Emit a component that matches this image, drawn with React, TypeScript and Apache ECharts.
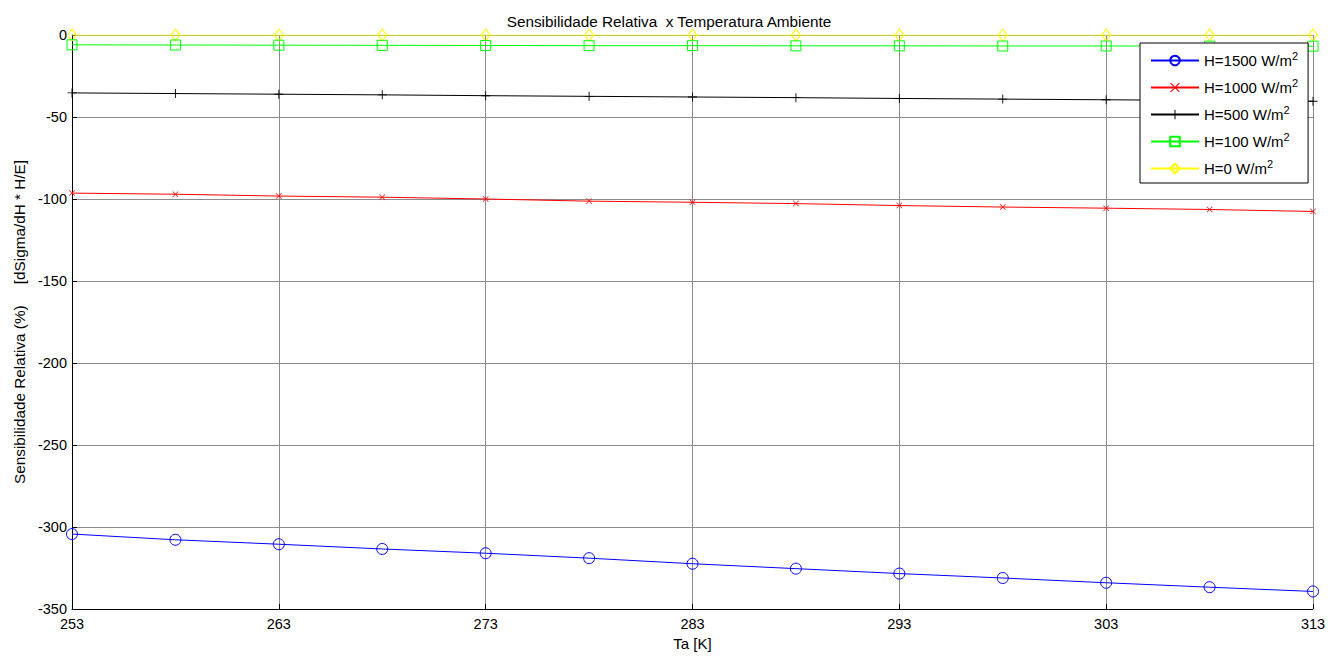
import React, { useEffect, useRef } from "react";
import * as echarts from "echarts";

const temps = [253, 258, 263, 268, 273, 278, 283, 288, 293, 298, 303, 308, 313];
const h1500 = [-304.3, -307.8, -310.5, -313.4, -316.0, -319.0, -322.4, -325.4, -328.4, -331.1, -334.0, -336.7, -339.3];
const h1000 = [-96.4, -97.1, -98.2, -98.9, -100.0, -101.3, -102.0, -102.8, -104.0, -104.9, -105.6, -106.4, -107.6];
const h500 = [-35.3, -35.7, -36.1, -36.5, -37.0, -37.4, -37.8, -38.2, -38.7, -39.1, -39.5, -39.9, -40.4];
const h100 = [-6.0, -6.1, -6.2, -6.3, -6.4, -6.5, -6.5, -6.6, -6.6, -6.7, -6.7, -6.8, -6.8];
const h0 = [0, 0, 0, 0, 0, 0, 0, 0, 0, 0, 0, 0, 0];
const seriesNames = ["H=1500 W/m2", "H=1000 W/m2", "H=500 W/m2", "H=100 W/m2", "H=0 W/m2"];
const xTicks = [253, 263, 273, 283, 293, 303, 313];
const yTicks = [0, -50, -100, -150, -200, -250, -300, -350];

const plusPath = "path://M4.5,0 L5.5,0 L5.5,4.5 L10,4.5 L10,5.5 L5.5,5.5 L5.5,10 L4.5,10 L4.5,5.5 L0,5.5 L0,4.5 L4.5,4.5 Z";
const xPath = "path://M0,0.8 L0.8,0 L5,4.2 L9.2,0 L10,0.8 L5.8,5 L10,9.2 L9.2,10 L5,5.8 L0.8,10 L0,9.2 L4.2,5 Z";

export default function App() {
  const ref = useRef<HTMLDivElement>(null);
  useEffect(() => {
    if (!ref.current) return;
    const chart = echarts.init(ref.current, undefined, { renderer: "svg" });
    const mk = (arr: number[]) => temps.map((t, i) => [t, arr[i]]);
    const open = (c: string) => ({ color: "rgba(0,0,0,0)", borderColor: c, borderWidth: 1 });
    const font = "'Liberation Sans', Arial, sans-serif";
    chart.setOption({
      animation: false,
      backgroundColor: "#ffffff",
      textStyle: { fontFamily: font },
      title: {
        text: "Sensibilidade Relativa  x Temperatura Ambiente",
        left: "center",
        top: 9,
        textStyle: { fontSize: 15.3, fontWeight: "normal", color: "#000", fontFamily: font },
      },
      grid: { left: 72, right: 25, top: 35, bottom: 41, show: false },
      legend: {
        orient: "vertical",
        left: 1140,
        top: 43,
        width: 165,
        padding: [7, 10, 7, 10],
        itemGap: 9,
        itemWidth: 48,
        itemHeight: 12,
        backgroundColor: "#ffffff",
        borderColor: "#000",
        borderWidth: 1,
        data: seriesNames,
        formatter: (n: string) => n.replace("m2", "m{sup|2}"),
        textStyle: {
          fontSize: 15,
          color: "#000",
          fontFamily: font,
          rich: { sup: { fontSize: 11, verticalAlign: "bottom", padding: [0, 0, 10, 0], fontFamily: font } },
        },
      },
      xAxis: {
        type: "value",
        min: 253,
        max: 313,
        interval: 10,
        name: "Ta [K]",
        nameLocation: "middle",
        nameGap: 27,
        nameTextStyle: { fontSize: 15, color: "#000", fontFamily: font },
        axisLine: { show: true, onZero: false, lineStyle: { color: "#000", width: 1 } },
        axisTick: { show: true, inside: true, length: 5, lineStyle: { color: "#000" } },
        axisLabel: {
          color: "#000",
          fontSize: 14.5,
          margin: 7,
          fontFamily: font,
          formatter: (v: number) => (xTicks.includes(v) ? String(v) : ""),
        },
        splitLine: { show: true, lineStyle: { color: "#8c8c8c", width: 1 } },
      },
      yAxis: {
        type: "value",
        min: -350,
        max: 0,
        interval: 50,
        name: "Sensibilidade Relativa (%)     [dSigma/dH * H/E]",
        nameLocation: "middle",
        nameGap: 45,
        nameRotate: 90,
        nameTextStyle: { fontSize: 15.3, color: "#000", fontFamily: font },
        axisLine: { show: true, onZero: false, lineStyle: { color: "#000", width: 1 } },
        axisTick: { show: true, inside: true, length: 5, lineStyle: { color: "#000" } },
        axisLabel: {
          color: "#000",
          fontSize: 14.5,
          margin: 5,
          fontFamily: font,
          formatter: (v: number) => (yTicks.includes(v) ? String(v) : ""),
        },
        splitLine: { show: true, lineStyle: { color: "#8c8c8c", width: 1 } },
      },
      series: [
        {
          name: seriesNames[0], type: "line", data: mk(h1500),
          symbol: "circle", symbolSize: 11, showAllSymbol: true,
          lineStyle: { color: "#0000ff", width: 1 }, itemStyle: open("#0000ff"), color: "#0000ff", z: 5,
        },
        {
          name: seriesNames[1], type: "line", data: mk(h1000),
          symbol: xPath, symbolSize: 6, showAllSymbol: true,
          lineStyle: { color: "#ff0000", width: 1 }, itemStyle: { color: "#ff0000" }, color: "#ff0000", z: 4,
        },
        {
          name: seriesNames[2], type: "line", data: mk(h500),
          symbol: plusPath, symbolSize: 9, showAllSymbol: true,
          lineStyle: { color: "#000000", width: 1 }, itemStyle: { color: "#000000" }, color: "#000000", z: 3,
        },
        {
          name: seriesNames[3], type: "line", data: mk(h100),
          symbol: "rect", symbolSize: 10, showAllSymbol: true,
          lineStyle: { color: "#00ff00", width: 1 }, itemStyle: open("#00ff00"), color: "#00ff00", z: 2,
        },
        {
          name: seriesNames[4], type: "line", data: mk(h0),
          symbol: "diamond", symbolSize: [9, 12], showAllSymbol: true,
          lineStyle: { color: "#ffff00", width: 1 }, itemStyle: open("#ffff00"), color: "#ffff00", z: 1,
        },
      ],
    });
    return () => chart.dispose();
  }, []);
  return <div ref={ref} style={{ width: 1338, height: 656, position: "absolute", left: 0, top: 0 }} />;
}
